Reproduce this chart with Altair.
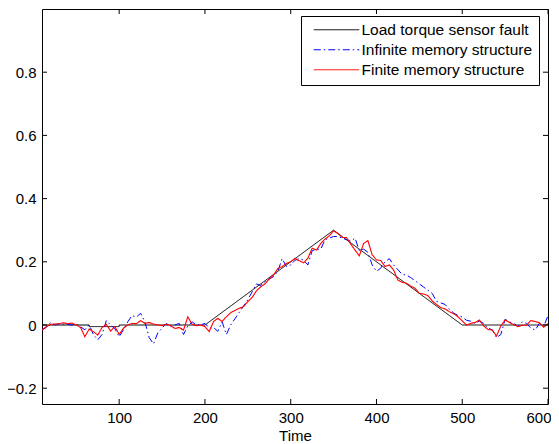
import altair as alt
import pandas as pd

# ---- data ----
time = list(range(10, 601, 5))

finite = [
    -0.016, -0.005, 0.002, 0.003, 0.004, 0.007, 0.004, 0.006, 0.0, -0.008,
    -0.037, -0.013, -0.021, -0.032, -0.008, 0.002, -0.019, -0.005, -0.03, -0.01,
    0.0, 0.005, 0.004, 0.014, 0.005, 0.008, 0.003, 0.0, -0.002, 0.002,
    -0.002, -0.011, -0.008, -0.016, 0.026, 0.002, -0.002, 0.0, -0.005, -0.021,
    0.011, 0.021, 0.011, 0.026, 0.039, 0.046, 0.053, 0.058, 0.074, 0.087,
    0.108, 0.121, 0.13, 0.146, 0.158, 0.179, 0.185, 0.195, 0.2, 0.211,
    0.203, 0.197, 0.211, 0.243, 0.237, 0.258, 0.272, 0.282, 0.298, 0.29,
    0.277, 0.277, 0.256, 0.237, 0.219, 0.258, 0.267, 0.222, 0.206, 0.204,
    0.185, 0.19, 0.174, 0.142, 0.135, 0.132, 0.123, 0.116, 0.1, 0.098,
    0.093, 0.076, 0.065, 0.055, 0.051, 0.042, 0.036, 0.026, 0.013, 0.0,
    0.005, 0.008, 0.016, -0.003, -0.014, -0.016, -0.035, -0.003, 0.016, 0.008,
    0.001, -0.005, -0.001, -0.001, 0.014, 0.011, 0.007, -0.007, 0.005,
]

infinite = [
    -0.016, -0.008, 0.008, 0.0, 0.004, 0.003, 0.002, 0.0, 0.003, -0.006,
    -0.015, 0.0, -0.03, -0.047, -0.03, 0.014, 0.0, -0.012, -0.037, -0.015,
    0.01, 0.03, 0.025, 0.037, 0.01, -0.04, -0.06, -0.025, -0.01, 0.005,
    -0.005, 0.0, 0.005, -0.03, -0.003, 0.01, 0.0, 0.0, 0.005, -0.01,
    -0.008, -0.02, 0.01, -0.03, 0.0, 0.02, 0.04, 0.06, 0.08, 0.105,
    0.13, 0.125, 0.137, 0.145, 0.153, 0.17, 0.21, 0.185, 0.19, 0.205,
    0.21, 0.205, 0.19, 0.235, 0.24, 0.24, 0.27, 0.275, 0.28, 0.28,
    0.275, 0.27, 0.265, 0.275, 0.235, 0.24, 0.23, 0.19, 0.17, 0.18,
    0.2, 0.21, 0.19, 0.175, 0.16, 0.158, 0.15, 0.14, 0.13, 0.12,
    0.11, 0.1, 0.075, 0.07, 0.065, 0.05, 0.038, 0.03, 0.025, 0.015,
    0.012, 0.005, 0.012, 0.005, -0.01, -0.015, -0.04, -0.03, 0.018, 0.01,
    0.005, -0.005, 0.01, 0.005, -0.01, -0.016, 0.005, -0.005, 0.03,
]

fault_time = [10, 65, 65, 100, 100, 200, 350, 500, 600]
fault_value = [0.0, 0.0, -0.005, -0.005, 0.0, 0.0, 0.3, 0.0, 0.0]

series_names = ["Load torque sensor fault", "Infinite memory structure", "Finite memory structure"]
series_colors = ["#000000", "#0000ff", "#ff0000"]
series_dashes = [[1, 0], [7, 3, 1.5, 3], [1, 0]]

x_ticks = [100, 200, 300, 400, 500, 600]
y_ticks = [-0.2, 0.0, 0.2, 0.4, 0.6, 0.8]

W, H = 506, 395
FONT = "Liberation Sans"

df_fault = pd.DataFrame({"Time": fault_time, "value": fault_value, "series": series_names[0]})
df_inf = pd.DataFrame({"Time": time, "value": infinite, "series": series_names[1]})
df_fin = pd.DataFrame({"Time": time, "value": finite, "series": series_names[2]})

x_scale = alt.Scale(domain=[10, 600], nice=False, zero=False)
y_scale = alt.Scale(domain=[-0.25, 1.0], nice=False, zero=False)
x_axis = alt.Axis(values=x_ticks, title="Time", grid=False, ticks=False, tickSize=0, domain=False,
                  labelPadding=6, titlePadding=3, labelFlush=True, labelFlushOffset=3)
y_axis = alt.Axis(values=y_ticks, title=None, grid=False, ticks=False, tickSize=0, domain=False,
                  labelPadding=6, format=".1~f")

legend_kw = dict(title=None, orient="none", legendX=259, legendY=7,
                 fillColor="white", strokeColor="black", padding=6,
                 labelFontSize=15.5, labelFont=FONT, labelColor="black",
                 symbolType="M-0.2,0H8.9", symbolSize=100, symbolStrokeWidth=1,
                 labelOffset=39, rowPadding=3, cornerRadius=0, labelLimit=300)

color = alt.Color("series:N", scale=alt.Scale(domain=series_names, range=series_colors),
                  legend=alt.Legend(**legend_kw))
dash = alt.StrokeDash("series:N", scale=alt.Scale(domain=series_names, range=series_dashes),
                      legend=alt.Legend(**legend_kw))

x_enc = alt.X("Time:Q", scale=x_scale, axis=x_axis)
y_enc = alt.Y("value:Q", scale=y_scale, axis=y_axis)

fault_line = alt.Chart(df_fault).mark_line(strokeWidth=1, clip=True).encode(
    x=x_enc, y=y_enc, color=color, strokeDash=dash, order=alt.Order("idx:Q"),
).transform_window(idx="row_number()")

inf_line = alt.Chart(df_inf).mark_line(strokeWidth=1, clip=True).encode(
    x=x_enc, y=y_enc, color=color, strokeDash=dash, order=alt.Order("Time:Q"))
fin_line = alt.Chart(df_fin).mark_line(strokeWidth=1.1, clip=True).encode(
    x=x_enc, y=y_enc, color=color, strokeDash=dash, order=alt.Order("Time:Q"))

xt = pd.DataFrame({"Time": x_ticks})
yt = pd.DataFrame({"value": y_ticks})

xtick_bot = alt.Chart(xt).mark_rule(color="black", strokeWidth=1).encode(
    x=x_enc, y=alt.value(H), y2=alt.value(H - 5))
xtick_top = alt.Chart(xt).mark_rule(color="black", strokeWidth=1).encode(
    x=x_enc, y=alt.value(0), y2=alt.value(5))
ytick_left = alt.Chart(yt).mark_rule(color="black", strokeWidth=1).encode(
    y=y_enc, x=alt.value(0), x2=alt.value(5))
ytick_right = alt.Chart(yt).mark_rule(color="black", strokeWidth=1).encode(
    y=y_enc, x=alt.value(W), x2=alt.value(W - 5))

chart = alt.layer(
    fault_line, inf_line, fin_line, xtick_bot, xtick_top, ytick_left, ytick_right
).properties(
    width=W, height=H,
    autosize=alt.AutoSizeParams(type="none"),
    padding={"left": 34, "top": 1, "right": 3, "bottom": 40},
).configure_view(
    stroke="black", strokeWidth=1
).configure_axis(
    labelFont=FONT, labelFontSize=15, labelColor="black",
    titleFont=FONT, titleFontSize=15, titleColor="black", titleFontWeight="normal",
)

chart.save("out.html", embed_options={"renderer": "svg", "actions": False})
